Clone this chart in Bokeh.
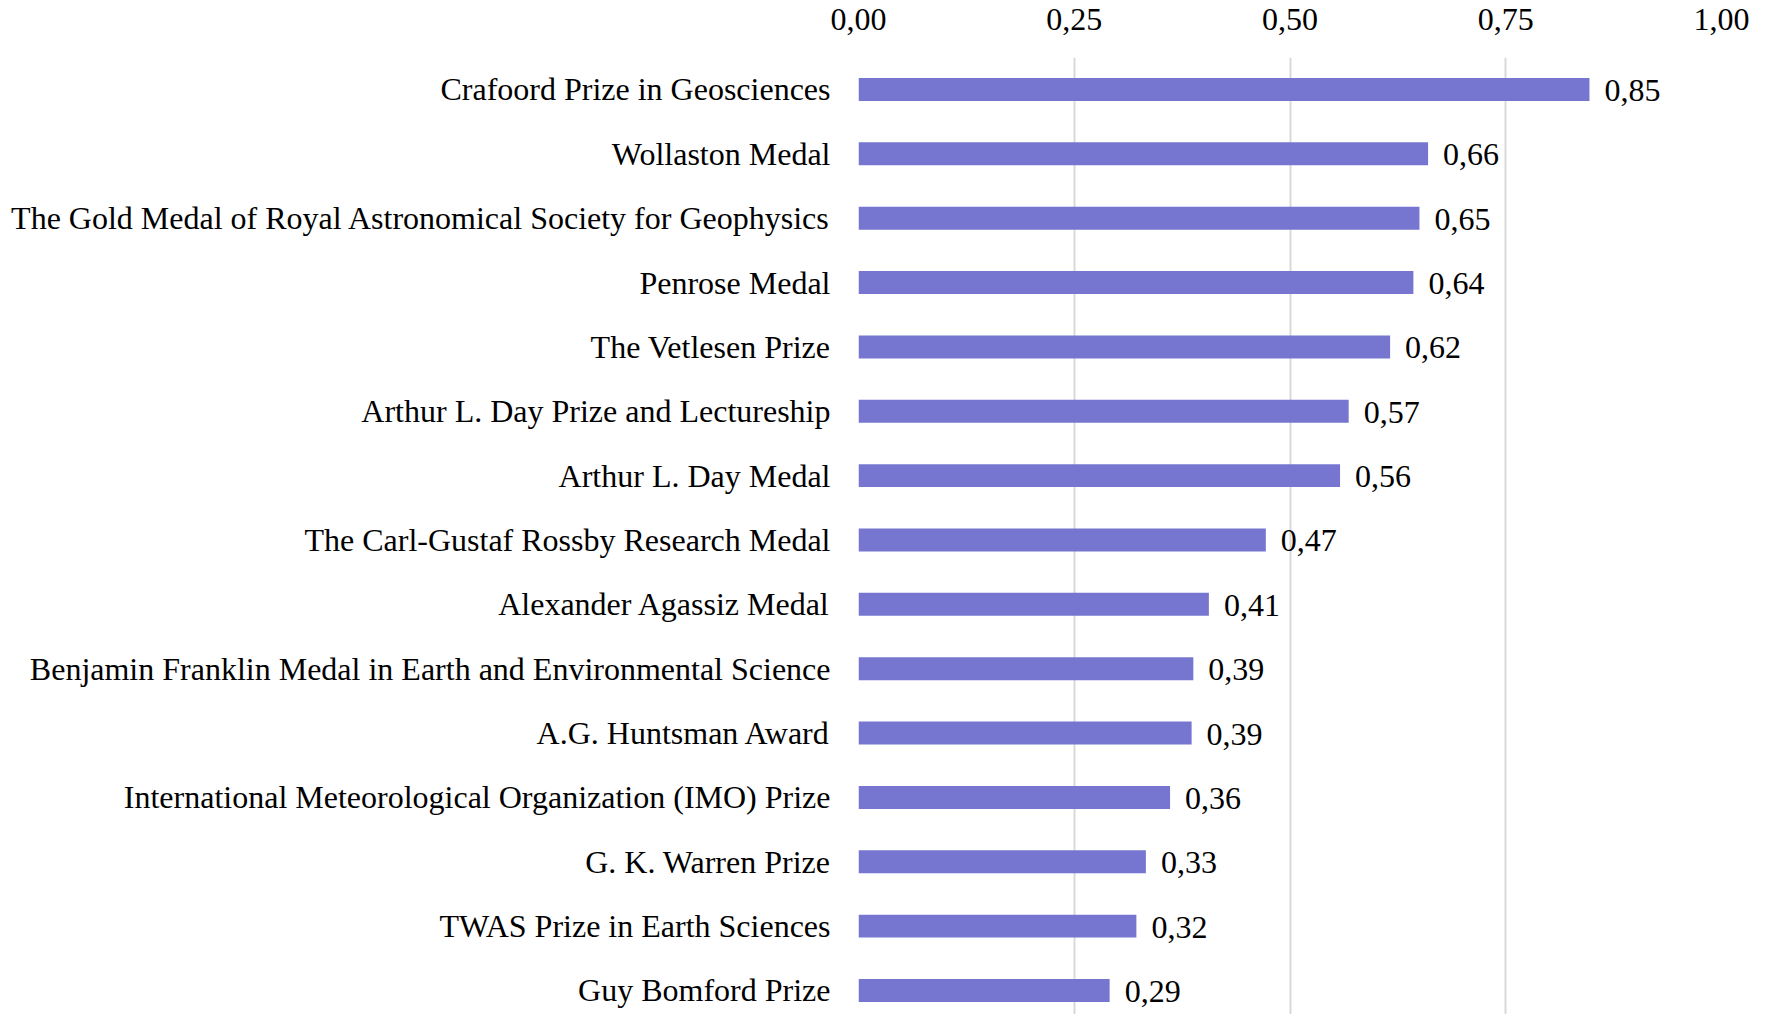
from bokeh.plotting import figure
from bokeh.models import Range1d, FixedTicker, ColumnDataSource
from bokeh.embed import file_html
from bokeh.resources import INLINE

categories = [
    "Crafoord Prize in Geosciences",
    "Wollaston Medal",
    "The Gold Medal of Royal Astronomical Society for Geophysics",
    "Penrose Medal",
    "The Vetlesen Prize",
    "Arthur L. Day Prize and Lectureship",
    "Arthur L. Day Medal",
    "The Carl-Gustaf Rossby Research Medal",
    "Alexander Agassiz Medal",
    "Benjamin Franklin Medal in Earth and Environmental Science",
    "A.G. Huntsman Award",
    "International Meteorological Organization (IMO) Prize",
    "G. K. Warren Prize",
    "TWAS Prize in Earth Sciences",
    "Guy Bomford Prize",
]
values = [0.847, 0.660, 0.650, 0.643, 0.616, 0.568, 0.558, 0.472, 0.406,
          0.388, 0.386, 0.361, 0.333, 0.322, 0.291]
x_ticks = [0.0, 0.25, 0.5, 0.75, 1.0]
x_tick_labels = ["0,00", "0,25", "0,50", "0,75", "1,00"]

FONT = "Liberation Serif"
SIZE = "32px"
BAR = "#7676D1"

idx = list(range(len(categories)))
labels = [("%.2f" % v).replace(".", ",") for v in values]
src = ColumnDataSource(dict(y=idx, v=values, lab=labels))

p = figure(width=1769, height=1014, output_backend="svg", toolbar_location=None,
           x_range=Range1d(0, 1), y_range=Range1d(14.373, -0.497),
           x_axis_location="above", min_border_left=858, min_border_right=48,
           min_border_top=57, min_border_bottom=0)
p.outline_line_color = None
p.background_fill_color = "white"
p.border_fill_color = "white"

p.hbar(y="y", left=0, right="v", height=0.357, source=src, fill_color=BAR, line_color=None)
p.text(x="v", y="y", text="lab", source=src, x_offset=15, y_offset=1,
       text_baseline="middle", text_align="left",
       text_font=FONT, text_font_size=SIZE, text_color="black")

xa = p.xaxis[0]
xa.ticker = FixedTicker(ticks=x_ticks)
xa.major_label_overrides = {t: l for t, l in zip(x_ticks, x_tick_labels)}
xa.axis_line_color = None
xa.major_tick_line_color = None
xa.minor_tick_line_color = None
xa.major_label_standoff = 22
xa.major_label_text_font = FONT
xa.major_label_text_font_size = SIZE
xa.major_label_text_color = "black"

ya = p.yaxis[0]
ya.ticker = FixedTicker(ticks=idx)
ya.major_label_overrides = {i: c for i, c in zip(idx, categories)}
ya.axis_line_color = None
ya.major_tick_line_color = None
ya.minor_tick_line_color = None
ya.major_label_standoff = 22
ya.major_label_text_font = FONT
ya.major_label_text_font_size = SIZE
ya.major_label_text_color = "black"

p.xgrid.grid_line_color = "#D9D9D9"
p.xgrid.grid_line_width = 2
p.xgrid.ticker = FixedTicker(ticks=x_ticks)
p.ygrid.grid_line_color = None

open("out.html", "w").write(file_html(p, INLINE))
